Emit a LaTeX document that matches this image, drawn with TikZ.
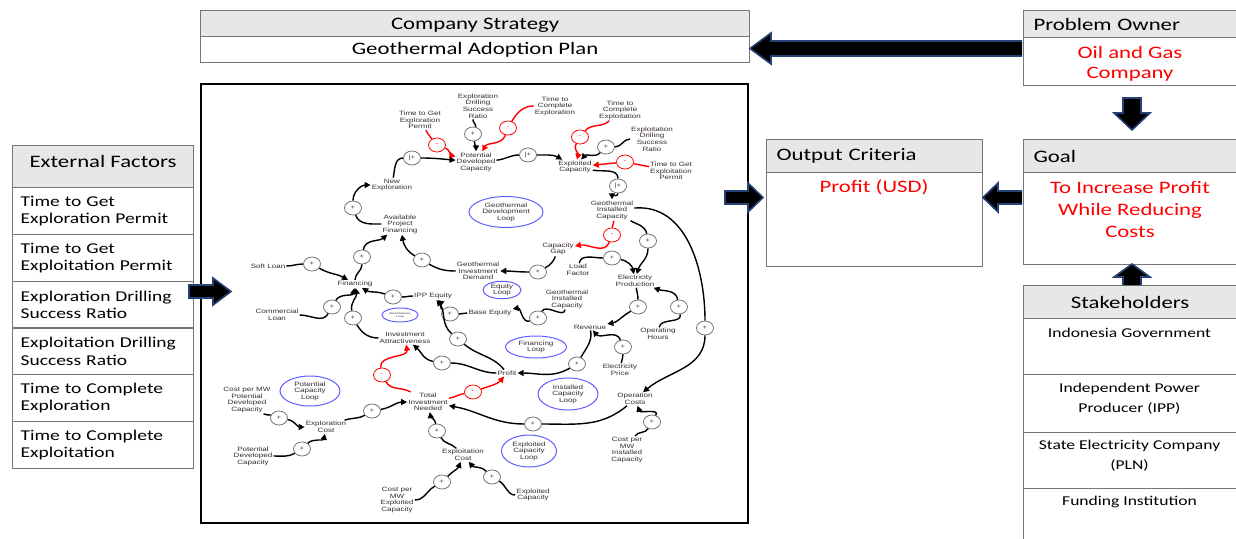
\documentclass[tikz,border=0pt]{standalone}
\usepackage{fontspec}
\setmainfont{Carlito}[FakeStretch=1.3]
\newfontfamily\cldfont{Liberation Sans}[FakeStretch=1.3]
\usetikzlibrary{arrows.meta,shapes.geometric}
\definecolor{boxgray}{RGB}{118,118,118}
\definecolor{hdrgray}{RGB}{231,231,231}
\definecolor{arrowblue}{RGB}{38,64,120}
\definecolor{loopblue}{RGB}{95,95,255}
\definecolor{cldtext}{RGB}{55,45,45}
\definecolor{redtext}{RGB}{255,0,0}
\tikzset{
  hdr/.style={draw=boxgray, fill=hdrgray, line width=1.2pt, inner sep=0pt, anchor=north west, font=\fontsize{17.5}{20}\selectfont},
  cell/.style={draw=boxgray, fill=white, line width=1.2pt, inner sep=0pt, anchor=north west},
  redtxt/.style={text=redtext, align=center, font=\fontsize{17.5}{21}\selectfont, inner sep=0pt},
  rowtxt/.style={font=\fontsize{15}{17.5}\selectfont},
  sttxt/.style={align=center, anchor=north, inner sep=0pt, font=\fontsize{13.5}{20}\selectfont},
  blockarrow/.style={fill=black, draw=arrowblue, line width=1.6pt, line join=miter},
  v/.style={font=\cldfont\fontsize{6.2}{6.6}\selectfont, align=center, inner sep=1pt, text=cldtext},
  sg/.style={ellipse, draw=black!55, fill=white, line width=0.8pt, minimum width=17pt, minimum height=14pt, inner sep=0pt, font=\cldfont\fontsize{6}{6}\selectfont, text=black!75},
  sgr/.style={sg, draw=red, text=red},
  lnk/.style={line width=1.4pt, -{Triangle[length=6pt,width=6pt]}},
  lnkr/.style={lnk, draw=red},
  loopnode/.style={ellipse, draw=loopblue, line width=1pt, align=center, inner sep=0pt, font=\cldfont\fontsize{6.2}{6.6}\selectfont, text=cldtext},
}
\begin{document}
\begin{tikzpicture}[x=1pt,y=-1pt]
\useasboundingbox (0,0) rectangle (1236,538);

% ---------- Company Strategy ----------
\node[hdr, minimum width=549pt, minimum height=26pt, text height=12pt, text depth=0pt] (csh) at (200,10) {Company Strategy};
\node[cell, minimum width=549pt, minimum height=26pt, font=\fontsize{17.5}{20}\selectfont] (csb) at (200,36) {Geothermal Adoption Plan};

% ---------- Problem Owner ----------
\node[hdr, minimum height=27pt, text width=193pt, inner xsep=10pt, align=left] (poh) at (1023,10) {Problem Owner};
\node[cell, minimum width=213pt, minimum height=48pt] (pob) at (1023,37) {};
\node[redtxt, font=\fontsize{17.5}{20}\selectfont] (pot) at (1130,63.5) {Oil and Gas\\Company};

% ---------- Goal ----------
\node[hdr, minimum height=33pt, text width=193pt, inner xsep=10pt, align=left] (gh) at (1023,139) {Goal};
\node[cell, minimum width=213pt, minimum height=92pt] (gb) at (1023,172) {};
\node[redtxt, font=\fontsize{17.5}{22}\selectfont] (gt) at (1130,209.5) {To Increase Profit\\While Reducing\\Costs};

% ---------- Output Criteria ----------
\node[hdr, minimum height=33pt, text width=196pt, inner xsep=10pt, align=left] (oh) at (766,139) {Output Criteria};
\node[cell, minimum width=216pt, minimum height=94pt] (ob) at (766,172) {};
\node[redtxt] (ot) at (874,187) {Profit (USD)};

% ---------- External Factors ----------
\node[hdr, minimum width=181pt, minimum height=42pt, text depth=10pt] (efh) at (12,145) {External Factors};
\foreach \t [count=\i] in {{Time to Get\\Exploration Permit},{Time to Get\\Exploitation Permit},{Exploration Drilling\\Success Ratio},{Exploitation Drilling\\Success Ratio},{Time to Complete\\Exploration},{Time to Complete\\Exploitation}}
  \node[cell, rowtxt, minimum height=46.8pt, text width=165pt, inner xsep=8pt, align=left] (ef\i) at (12,{187+46.8*(\i-1)}) {\t};

% ---------- Stakeholders ----------
\node[hdr, minimum width=213pt, minimum height=33pt] (sth) at (1023,285) {Stakeholders};
\node[cell, minimum width=213pt, minimum height=56pt] (st1) at (1023,318) {};
\node[cell, minimum width=213pt, minimum height=58pt] (st2) at (1023,374) {};
\node[cell, minimum width=213pt, minimum height=56pt] (st3) at (1023,432) {};
\node[cell, minimum width=213pt, minimum height=62pt] (st4) at (1023,488) {};
\node[sttxt] (st1t) at (1129.5,327.5) {Indonesia Government};
\node[sttxt] (st2t) at (1129.5,382.5) {Independent Power\\Producer (IPP)};
\node[sttxt] (st3t) at (1129.5,439.5) {State Electricity Company\\(PLN)};
\node[sttxt] (st4t) at (1129.5,495.5) {Funding Institution};

% ---------- central CLD frame ----------
\node[draw=black, line width=2.2pt, minimum width=547pt, minimum height=439pt, anchor=north west, inner sep=0pt] (cld) at (200,83) {};

% ---------- block arrows ----------
\draw[blockarrow] (1022,41) -- (771,41) -- (771,33) -- (750,48.5) -- (771,64) -- (771,56) -- (1022,56);
\draw[blockarrow] (1123,98) -- (1141,98) -- (1141,113) -- (1150,113) -- (1132,130) -- (1114,113) -- (1123,113) -- cycle;
\draw[blockarrow] (1022,191) -- (998,191) -- (998,183) -- (983,197.5) -- (998,212) -- (998,204) -- (1022,204);
\draw[blockarrow] (725,191) -- (748,191) -- (748,183) -- (763,197.5) -- (748,212) -- (748,204) -- (725,204) -- cycle;
\draw[blockarrow] (1123,285) -- (1123,277) -- (1114,277) -- (1132,264) -- (1150,277) -- (1141,277) -- (1141,285);
\draw[blockarrow] (189,285) -- (213,285) -- (213,278) -- (231,291.5) -- (213,305) -- (213,298) -- (189,298) -- cycle;

% ---------- CLD variables ----------
\node[v] (tgep) at (420,120) {Time to Get\\Exploration\\Permit};
\node[v] (edsr) at (478,106) {Exploration\\Drilling\\Success\\Ratio};
\node[v] (tcer) at (555,106) {Time to\\Complete\\Exploration};
\node[v] (tcet) at (620,110) {Time to\\Complete\\Exploitation};
\node[v] (etdsr) at (652,139) {Exploitation\\Drilling\\Success\\Ratio};
\node[v] (tgxp) at (671,171) {Time to Get\\Exploitation\\Permit};
\node[v] (pdc) at (476,162) {Potential\\Developed\\Capacity};
\node[v] (ec) at (575,167) {Exploited\\Capacity};
\node[v] (gic) at (612,210) {Geothermal\\Installed\\Capacity};
\node[v] (newx) at (392,185) {New\\Exploration};
\node[v] (apf) at (400,224) {Available\\Project\\Financing};
\node[v] (cgap) at (558,249) {Capacity\\Gap};
\node[v] (gid) at (478,271) {Geothermal\\Investment\\Demand};
\node[v] (lf) at (578,270) {Load\\Factor};
\node[v] (ep) at (635,281) {Electricity\\Production};
\node[v] (gic2) at (567,299) {Geothermal\\Installed\\Capacity};
\node[v] (beq) at (490,313) {Base Equity};
\node[v] (ipp) at (433,296) {IPP Equity};
\node[v] (fin) at (355,284) {Financing};
\node[v] (soft) at (268,266) {Soft Loan};
\node[v] (comm) at (277,315) {Commercial\\Loan};
\node[v] (ia) at (405,338) {Investment\\Attractiveness};
\node[v] (rev) at (590,327) {Revenue};
\node[v] (oph) at (658,334) {Operating\\Hours};
\node[v] (eprice) at (620,370) {Electricity\\Price};
\node[v] (profit) at (507,373) {Profit};
\node[v] (tin) at (428,402) {Total\\Investment\\Needed};
\node[v] (opc) at (635,399) {Operation\\Costs};
\node[v] (cpmw1) at (247,400) {Cost per MW\\Potential\\Developed\\Capacity};
\node[v] (expc) at (326,427) {Exploration\\Cost};
\node[v] (pdc2) at (253,456) {Potential\\Developed\\Capacity};
\node[v] (etc) at (463,455) {Exploitation\\Cost};
\node[v] (cpmw3) at (627,450) {Cost per\\MW\\Installed\\Capacity};
\node[v] (cpmw2) at (397,500) {Cost per\\MW\\Exploited\\Capacity};
\node[v] (ec2) at (533,495) {Exploited\\Capacity};

% ---------- loops ----------
\node[loopnode, minimum width=74pt, minimum height=31pt] (L1) at (506,212) {Geothermal\\Development\\Loop};
\node[loopnode, minimum width=38pt, minimum height=16pt] (L2) at (502,290) {Equity\\Loop};
\node[loopnode, minimum width=61pt, minimum height=22pt] (L3) at (536,347) {Financing\\Loop};
\node[loopnode, minimum width=60pt, minimum height=32pt] (L4) at (568,394) {Installed\\Capacity\\Loop};
\node[loopnode, minimum width=55pt, minimum height=32pt] (L5) at (529,451) {Exploited\\Capacity\\Loop};
\node[loopnode, minimum width=60pt, minimum height=30pt] (L6) at (310,391) {Potential\\Capacity\\Loop};
\node[loopnode, minimum width=36pt, minimum height=14pt, font=\cldfont\fontsize{2.6}{3}\selectfont] (L7) at (400,315) {Attractiveness\\Loop};

% ---------- signs ----------
\node[sgr] (s1) at (437,145) {-};
\node[sg]  (s2) at (473,134) {+};
\node[sgr] (s3) at (508,128) {-};
\node[sg]  (s4) at (528,155) {|+};
\node[sgr] (s5) at (580,137) {-};
\node[sg]  (s6) at (606,147) {+};
\node[sgr] (s7) at (625,162) {-};
\node[sg]  (s8) at (618,186) {|+};
\node[sgr] (s9) at (612,235) {-};
\node[sg]  (s10) at (648,241) {+};
\node[sg]  (s11) at (705,328) {+};
\node[sg]  (s12) at (538,272) {+};
\node[sg]  (s13) at (422,260) {+};
\node[sg]  (s14) at (353,208) {+};
\node[sg]  (s15) at (412,158) {|+};
\node[sg]  (s16) at (612,258) {+};
\node[sg]  (s17) at (638,307) {+};
\node[sg]  (s18) at (679,307) {+};
\node[sg]  (s19) at (623,347) {+};
\node[sg]  (s20) at (538,318) {+};
\node[sg]  (s21) at (450,314) {+};
\node[sg]  (s22) at (393,297) {+};
\node[sg]  (s23) at (312,264) {+};
\node[sg]  (s24) at (332,307) {+};
\node[sg]  (s25) at (353,318) {+};
\node[sg]  (s26) at (362,257) {+};
\node[sg]  (s27) at (458,339) {+};
\node[sg]  (s28) at (442,363) {+};
\node[sg]  (s29) at (577,364) {+};
\node[sgr] (s30) at (382,375) {-};
\node[sgr] (s31) at (473,392) {-};
\node[sg]  (s32) at (372,411) {+};
\node[sg]  (s33) at (279,418) {+};
\node[sg]  (s34) at (302,449) {+};
\node[sg]  (s35) at (437,431) {+};
\node[sg]  (s36) at (442,482) {+};
\node[sg]  (s37) at (492,477) {+};
\node[sg]  (s38) at (533,424) {+};
\node[sg]  (s39) at (652,422) {+};

% ---------- links ----------
\draw[lnkr] (tgep) to[out=-60,in=130] (s1) to[out=-20,in=165] (pdc);
\draw[lnk] (edsr) to[out=-110,in=70] (s2) to[out=-80,in=90] (pdc);
\draw[lnkr] (tcer) to[out=180,in=60] (s3) to[out=-110,in=60] (pdc);
\draw[lnk] (pdc) to[out=5,in=180] (s4) to[out=0,in=150] (ec);
\draw[lnkr] (tcet) to[out=-135,in=50] (s5) to[out=-120,in=75] (ec);
\draw[lnk] (etdsr) to[out=180,in=0] (s6) to[out=-135,in=50] (ec);
\draw[lnkr] (tgxp) -- (s7) -- (ec);
\draw[lnk] (ec) to[out=-10,in=90] (s8) to[out=-90,in=90] (gic);
\draw[lnkr] (gic) to[out=-80,in=90] (s9) to[out=-110,in=10] (cgap);
\draw[lnk] (gic) to[out=-30,in=100] (s10) to[out=-90,in=75] (ep);
\draw[lnk] (gic) to[out=5,in=90] (s11) to[out=-90,in=40] (opc);
\draw[lnk] (cgap) to[out=-110,in=30] (s12) to[out=180,in=0] (gid);
\draw[lnk] (gid) to[out=180,in=-30] (s13) to[out=150,in=-80] (apf);
\draw[lnk] (apf) to[out=180,in=-70] (s14) to[out=90,in=180] (newx);
\draw[lnk] (newx) to[out=80,in=180] (s15) to[out=0,in=175] (pdc);
\draw[lnk] (lf) to[out=80,in=180] (s16) to[out=-10,in=100] (ep);
\draw[lnk] (ep) to[out=-80,in=90] (s17) to[out=-150,in=10] (rev);
\draw[lnk] (oph) to[out=80,in=-80] (s18) to[out=100,in=-20] (ep);
\draw[lnk] (eprice) to[out=80,in=-90] (s19) to[out=110,in=-50] (rev);
\draw[lnk] (gic2) to[out=-100,in=60] (s20) to[out=-160,in=10] (beq);
\draw[lnk] (beq) to[out=180,in=0] (s21) to[out=150,in=-40] (ipp);
\draw[lnk] (ipp) to[out=180,in=0] (s22) to[out=160,in=-30] (fin);
\draw[lnk] (soft) to[out=0,in=180] (s23) to[out=-30,in=150] (fin);
\draw[lnk] (comm) to[out=0,in=-120] (s24) to[out=60,in=-100] (fin);
\draw[lnk] (ia) to[out=180,in=-60] (s25) to[out=100,in=-80] (fin);
\draw[lnk] (fin) to[out=90,in=-90] (s26) to[out=80,in=-140] (apf);
\draw[lnk] (profit) to[out=130,in=-40] (s27) to[out=140,in=-50] (ipp);
\draw[lnk] (profit) to[out=180,in=0] (s28) to[out=170,in=-40] (ia);
\draw[lnk] (rev) to[out=-80,in=60] (s29) to[out=-150,in=0] (profit);
\draw[lnkr] (tin) to[out=150,in=-60] (s30) to[out=100,in=-80] (ia);
\draw[lnkr] (tin) to[out=10,in=190] (s31) to[out=20,in=-130] (profit);
\draw[lnk] (expc) to[out=20,in=-150] (s32) to[out=10,in=180] (tin);
\draw[lnk] (cpmw1) to[out=-40,in=160] (s33) to[out=-10,in=180] (expc);
\draw[lnk] (pdc2) to[out=0,in=-150] (s34) to[out=45,in=-100] (expc);
\draw[lnk] (etc) to[out=135,in=-60] (s35) to[out=100,in=-80] (tin);
\draw[lnk] (cpmw2) to[out=0,in=-150] (s36) to[out=45,in=-110] (etc);
\draw[lnk] (ec2) to[out=180,in=-30] (s37) to[out=135,in=-50] (etc);
\draw[lnk] (opc) to[out=-140,in=0] (s38) to[out=180,in=-10] (tin);
\draw[lnk] (cpmw3) to[out=60,in=-120] (s39) to[out=60,in=-70] (opc);
\end{tikzpicture}
\end{document}
